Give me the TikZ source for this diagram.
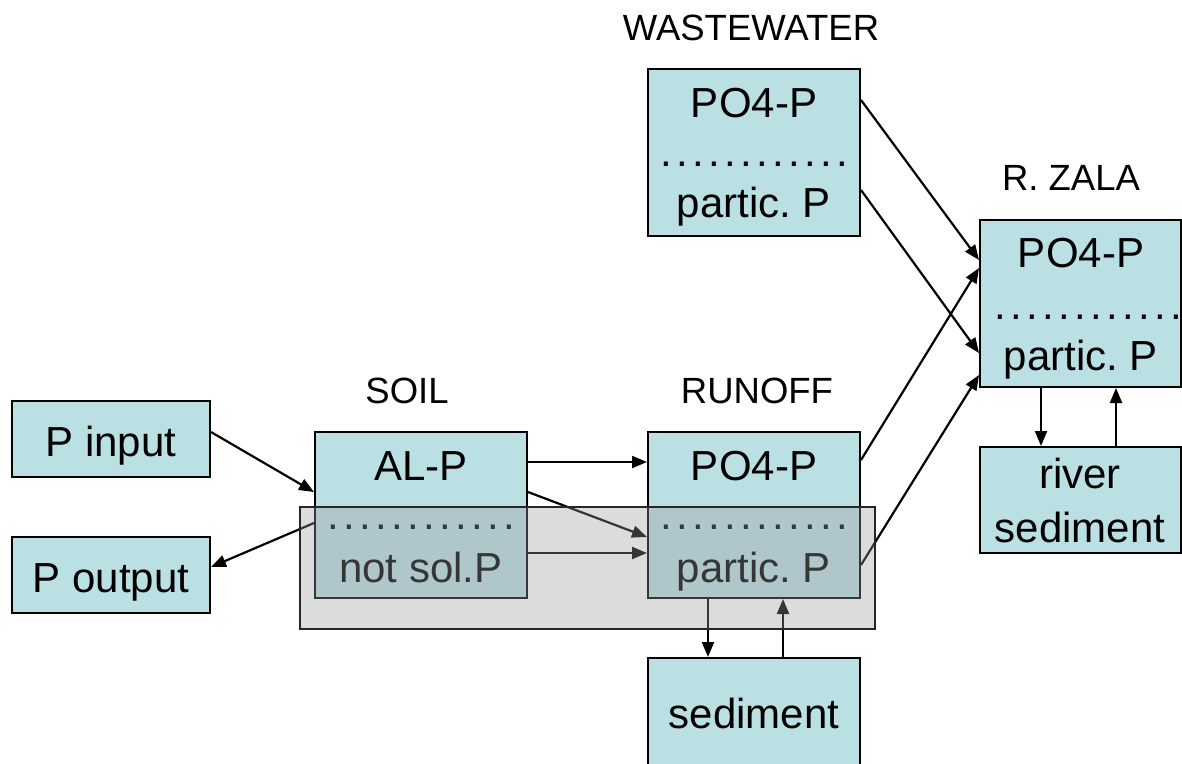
\documentclass[tikz,border=0pt]{standalone}
\usepackage{fontspec}
\setmainfont{Liberation Sans}
\usetikzlibrary{arrows.meta,calc}
\definecolor{boxblue}{RGB}{186,224,228}
\definecolor{overgray}{RGB}{155,155,155}
\newcommand\dd{\makebox[16pt]{.}}
\newcommand\dotrow{\dd\dd\dd\dd\dd\dd\dd\dd\dd\dd\dd\dd}
\frenchspacing
\tikzset{
  box/.style={draw=black, line width=2pt, fill=boxblue, rectangle, inner sep=0pt},
  txt/.style={anchor=base, inner sep=0pt, font=\fontsize{42pt}{48pt}\selectfont\frenchspacing},
  lbl/.style={anchor=base, inner sep=0pt, font=\fontsize{36.5pt}{42pt}\selectfont},
  arr/.style={line width=2.2pt, -{Triangle[length=15pt,width=12pt]}}
}
\begin{document}
\begin{tikzpicture}[x=1pt,y=-1pt]
\fill[white] (0,0) rectangle (1182,763);
\useasboundingbox (0,0) rectangle (1182,763);

% boxes
\node[box, minimum width=198pt, minimum height=76pt] (pin) at (111,439) {};
\node[box, minimum width=198pt, minimum height=76pt] (pout) at (111,575) {};
\node[box, minimum width=212pt, minimum height=166pt] (soil) at (421,515) {};
\node[box, minimum width=212pt, minimum height=166pt] (runoff) at (754,515) {};
\node[box, minimum width=212pt, minimum height=167pt] (ww) at (754,152.5) {};
\node[box, minimum width=201pt, minimum height=167pt] (zala) at (1080.5,303.5) {};
\node[box, minimum width=201pt, minimum height=106pt] (river) at (1080.5,500) {};
\node[box, minimum width=212pt, minimum height=112pt] (sed) at (754,714) {};

% box texts
\node[txt] (pintxt) at (111,456) {P input};
\node[txt] (pouttxt) at (111,592) {P output};
\node[txt] (soilA) at (421,480) {AL-P};
\node[txt] (soilD) at (421,529) {\dotrow};
\node[txt] (soilB) at (421,582) {not sol.P};
\node[txt] (runA) at (754,480) {PO4-P};
\node[txt] (runD) at (754,529) {\dotrow};
\node[txt] (runB) at (754,582) {partic. P};
\node[txt] (wwA) at (754,117) {PO4-P};
\node[txt] (wwD) at (754,166) {\dotrow};
\node[txt] (wwB) at (754,217) {partic. P};
\node[txt] (zA) at (1081,267) {PO4-P};
\node[txt] (zD) at (1088,319) {\dotrow};
\node[txt] (zB) at (1081,370) {partic. P};
\node[txt] (rivA) at (1080,488) {river};
\node[txt] (rivB) at (1080,542) {sediment};
\node[txt] (sedtxt) at (754,728) {sediment};

% labels
\node[lbl] (lww) at (751,40) {WASTEWATER};
\node[lbl] (lsoil) at (407,403) {SOIL};
\node[lbl] (lrun) at (757,403) {RUNOFF};
\node[lbl] (lzala) at (1071,190) {R. ZALA};

% connectors
\draw[arr] ($(pin.east)+(0,-7)$) -- ($(soil.west)+(0,-23)$);
\draw[arr] ($(soil.west)+(0,8)$) -- ($(pout.east)+(0,-8)$);
\draw[arr] ($(soil.east)+(0,-53)$) -- ($(runoff.west)+(0,-53)$);
\draw[arr] ($(soil.east)+(0,-23)$) -- ($(runoff.west)+(0,22)$);
\draw[arr] ($(soil.east)+(0,38)$) -- ($(runoff.west)+(0,38)$);
\draw[arr] ($(runoff.south)+(-46,0)$) -- ($(sed.north)+(-46,0)$);
\draw[arr] ($(sed.north)+(29,0)$) -- ($(runoff.south)+(29,0)$);
\draw[arr] ($(ww.east)+(0,-52.5)$) -- ($(zala.west)+(0,-43.5)$);
\draw[arr] ($(ww.east)+(0,37.5)$) -- ($(zala.west)+(0,49.5)$);
\draw[arr] ($(runoff.east)+(0,-55)$) -- ($(zala.west)+(0,-35.5)$);
\draw[arr] ($(runoff.east)+(0,50)$) -- ($(zala.west)+(0,71.5)$);
\draw[arr] ($(zala.south)+(-39.5,0)$) -- ($(river.north)+(-39.5,0)$);
\draw[arr] ($(river.north)+(35.5,0)$) -- ($(zala.south)+(35.5,0)$);

% translucent gray overlay
\node[draw=black!85, line width=1.6pt, fill=overgray, fill opacity=0.35, minimum width=575pt, minimum height=122pt, inner sep=0pt] (ground) at (587.5,568) {};
\end{tikzpicture}
\end{document}
